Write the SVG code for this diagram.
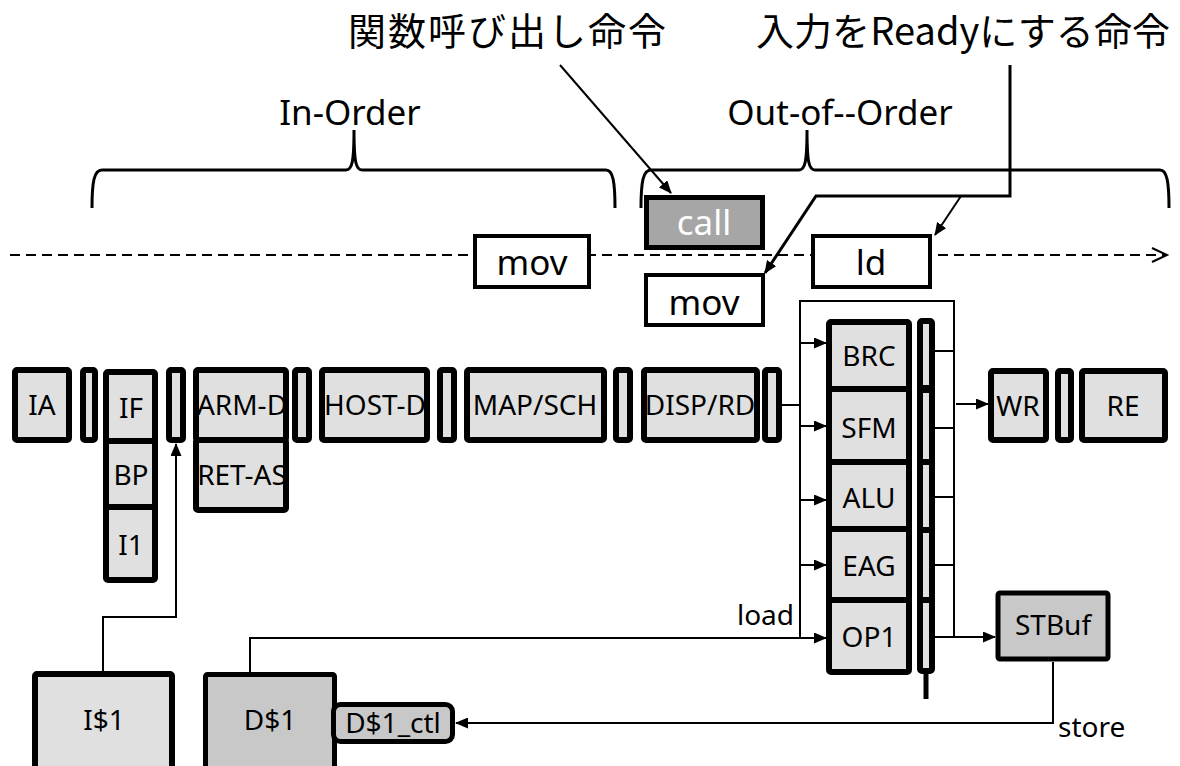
<svg xmlns="http://www.w3.org/2000/svg" width="1180" height="766" viewBox="0 0 1180 766">
<defs>
<marker id="ah" markerUnits="userSpaceOnUse" markerWidth="13" markerHeight="11" refX="12" refY="5.5" orient="auto">
<path d="M0,0 L13,5.5 L0,11 z" fill="#000"/>
</marker>
<style>
.st{fill:#e0e0e0;stroke:#000;stroke-width:6;}
.dk{fill:#c8c8c8;stroke:#000;stroke-width:5;}
.ins{fill:#fff;stroke:#000;stroke-width:4;}
.t{font-family:"Noto Sans","Liberation Sans",sans-serif;font-size:28px;fill:#000;text-anchor:middle;}
.ti{font-family:"Noto Sans","Liberation Sans",sans-serif;font-size:35px;fill:#000;text-anchor:middle;}
.jp{font-family:"Noto Sans CJK JP","Noto Sans",sans-serif;font-size:38px;fill:#000;}
.ln{fill:none;stroke:#000;stroke-width:2;}
.br{fill:none;stroke:#000;stroke-width:3;}
</style>
</defs>
<rect width="1180" height="766" fill="#fff"/>

<g id="labels">
<text class="jp" x="348" y="45" textLength="318">関数呼び出し命令</text>
<text class="jp" x="756" y="45" textLength="414">入力をReadyにする命令</text>
<text class="ti" x="350" y="125">In-Order</text>
<text class="ti" x="840" y="125">Out-of--Order</text>
</g>

<g id="brackets">
<path class="br" d="M92,208 C92,182 94,170 102,170 L346,170 C352,170 354,162 354,130 C354,162 356,170 362,170 L606,170 C613,170 615,182 615,208"/>
<path class="br" d="M641,208 C641,182 643,170 651,170 L799,170 C805,170 807,162 807,130 C807,162 809,170 815,170 L1160,170 C1167,170 1169,182 1169,208"/>
</g>

<g id="timeline">
<line x1="10" y1="255" x2="1165" y2="255" stroke="#000" stroke-width="2" stroke-dasharray="10 6"/>
<polyline points="1152,248 1167,255 1152,262" fill="none" stroke="#000" stroke-width="2"/>
</g>

<g id="connectors">
<line class="ln" x1="560" y1="65" x2="671" y2="193" marker-end="url(#ah)"/>
<path class="ln" d="M1010,65 V196 H816 L765,273" style="stroke-width:3" marker-end="url(#ah)"/>
<line class="ln" x1="961" y1="196" x2="935" y2="235" marker-end="url(#ah)"/>
<path class="ln" d="M103,671 V617 H176 V444" marker-end="url(#ah)"/>
<path class="ln" d="M250,672 V638 H826" marker-end="url(#ah)"/>
<path class="ln" d="M782,405 H800"/>
<path class="ln" d="M800,638 V301 H954 V637"/>
<path class="ln" d="M800,343 H826" marker-end="url(#ah)"/>
<path class="ln" d="M800,426 H826" marker-end="url(#ah)"/>
<path class="ln" d="M800,500 H826" marker-end="url(#ah)"/>
<path class="ln" d="M800,565 H826" marker-end="url(#ah)"/>
<path class="ln" d="M935,351 H954 M935,428 H954 M935,497 H954 M935,565 H954"/>
<path class="ln" d="M935,637 H995" marker-end="url(#ah)"/>
<path class="ln" d="M956,404 H988" marker-end="url(#ah)"/>
<path class="ln" d="M1053,662 V723 H456" marker-end="url(#ah)"/>
<line x1="926" y1="671" x2="926" y2="699" stroke="#000" stroke-width="5"/>
</g>

<g id="instr-mov1"><rect class="ins" x="475" y="236" width="114" height="51"/><text class="ti" x="532" y="275">mov</text></g>
<g id="instr-call"><rect x="646.5" y="197.5" width="116" height="50" fill="#a6a6a6" stroke="#000" stroke-width="5"/><text class="ti" x="704" y="235" fill="#fff" style="fill:#fff">call</text></g>
<g id="instr-mov2"><rect class="ins" x="646" y="275" width="117" height="50"/><text class="ti" x="704" y="315">mov</text></g>
<g id="instr-ld"><rect class="ins" x="813" y="236" width="117" height="51"/><text class="ti" x="871" y="275">ld</text></g>

<g id="IA"><rect class="st" x="15" y="370" width="54" height="70" rx="2"/><text class="t" x="42" y="415">IA</text></g>
<g id="L1"><rect class="st" x="83" y="370" width="12" height="70" rx="2"/></g>
<g id="IF"><rect class="st" x="106" y="372" width="49" height="69" rx="2"/><text class="t" x="131" y="418">IF</text></g>
<g id="BP"><rect class="st" x="106" y="441" width="49" height="66"/><text class="t" x="131" y="485">BP</text></g>
<g id="I1"><rect class="st" x="106" y="507" width="49" height="73" rx="2"/><text class="t" x="131" y="555">I1</text></g>
<g id="L2"><rect class="st" x="169" y="370" width="14" height="70" rx="2"/></g>
<g id="ARM-D"><rect class="st" x="196" y="370" width="90" height="70" rx="2"/><text class="t" x="242" y="415">ARM-D</text></g>
<g id="RET-AS"><rect class="st" x="196" y="440" width="90" height="70" rx="2"/><text class="t" x="242" y="485">RET-AS</text></g>
<g id="L3"><rect class="st" x="295" y="370" width="14" height="70" rx="2"/></g>
<g id="HOST-D"><rect class="st" x="322" y="370" width="105" height="70" rx="2"/><text class="t" x="375" y="415">HOST-D</text></g>
<g id="L4"><rect class="st" x="440" y="370" width="14" height="70" rx="2"/></g>
<g id="MAP-SCH"><rect class="st" x="467" y="370" width="137" height="70" rx="2"/><text class="t" x="535" y="415">MAP/SCH</text></g>
<g id="L5"><rect class="st" x="616" y="370" width="14" height="70" rx="2"/></g>
<g id="DISP-RD"><rect class="st" x="644" y="370" width="113" height="70" rx="2"/><text class="t" x="700" y="415">DISP/RD</text></g>
<g id="L6"><rect class="st" x="765" y="370" width="14" height="70" rx="2"/></g>

<g id="BRC"><rect class="st" x="829" y="322" width="80" height="67" rx="2"/><text class="t" x="869" y="366">BRC</text></g>
<g id="SFM"><rect class="st" x="829" y="389" width="80" height="73"/><text class="t" x="869" y="438">SFM</text></g>
<g id="ALU"><rect class="st" x="829" y="462" width="80" height="67"/><text class="t" x="869" y="508">ALU</text></g>
<g id="EAG"><rect class="st" x="829" y="529" width="80" height="71"/><text class="t" x="869" y="576">EAG</text></g>
<g id="OP1"><rect class="st" x="829" y="600" width="80" height="72" rx="2"/><text class="t" x="869" y="647">OP1</text></g>
<g id="FL1"><rect class="st" x="920" y="321" width="12" height="67" rx="2"/></g>
<g id="FL2"><rect class="st" x="920" y="390" width="12" height="72"/></g>
<g id="FL3"><rect class="st" x="920" y="462" width="12" height="68"/></g>
<g id="FL4"><rect class="st" x="920" y="530" width="12" height="70"/></g>
<g id="FL5"><rect class="st" x="920" y="600" width="12" height="71" rx="2"/></g>

<g id="WR"><rect class="st" x="991" y="371" width="55" height="69" rx="2"/><text class="t" x="1018" y="416">WR</text></g>
<g id="L7"><rect class="st" x="1058" y="371" width="13" height="69" rx="2"/></g>
<g id="RE"><rect class="st" x="1082" y="371" width="83" height="69" rx="2"/><text class="t" x="1123" y="416">RE</text></g>

<g id="STBuf"><rect class="dk" x="998" y="593" width="110" height="66" rx="2"/><text class="t" x="1053" y="635">STBuf</text></g>
<g id="Icache"><rect class="st" x="35" y="674" width="137" height="110" rx="2"/><text class="t" x="104" y="730">I$1</text></g>
<g id="Dcache"><rect class="dk" x="205.5" y="674.5" width="129" height="110" rx="2"/><text class="t" x="270" y="730">D$1</text></g>
<g id="Dctl"><rect class="dk" x="333.5" y="704.5" width="119" height="37" rx="7"/><text class="t" x="393" y="733">D$1_ctl</text></g>

<g id="edge-labels">
<text class="t" x="794" y="625" style="text-anchor:end">load</text>
<text class="t" x="1058" y="737" style="text-anchor:start">store</text>
</g>
</svg>
